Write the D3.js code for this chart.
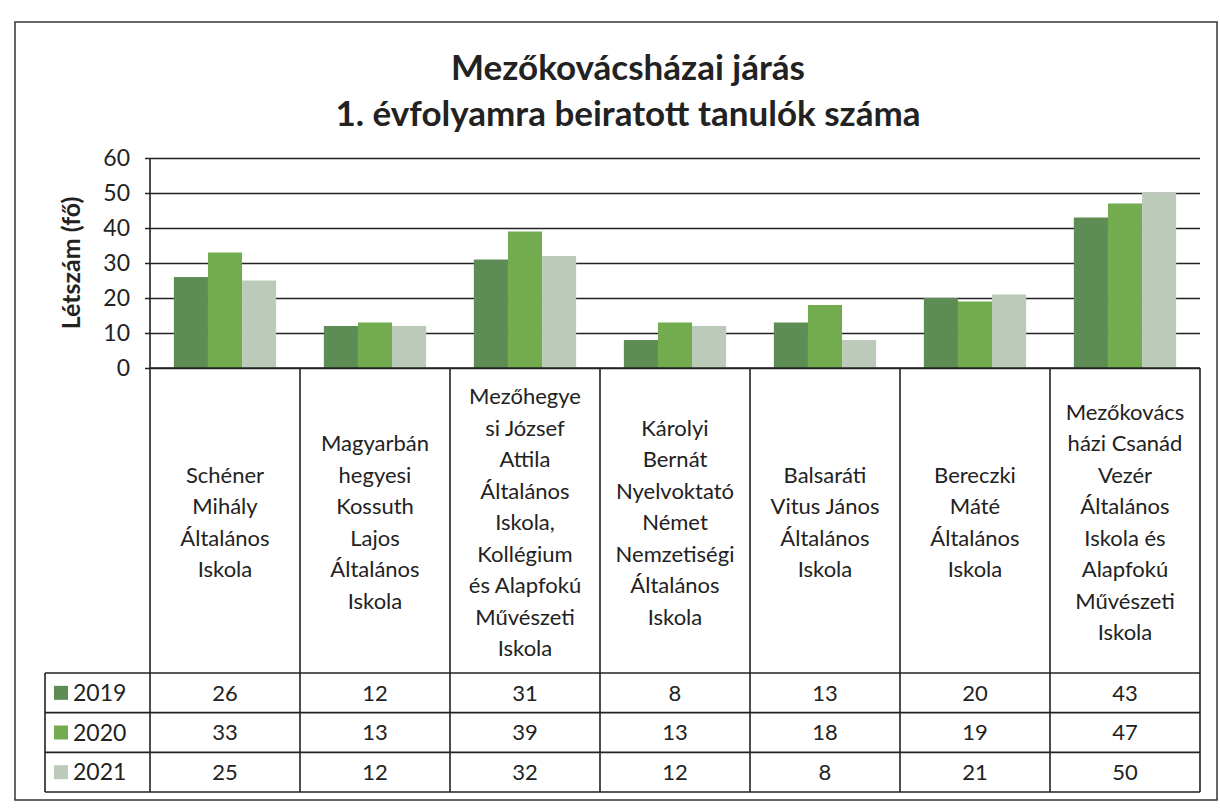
<!DOCTYPE html>
<html>
<head>
<meta charset="utf-8">
<script src="https://cdn.jsdelivr.net/npm/d3@7"></script>
<style>
  body { margin: 0; background: #fff; }
  svg { font-family: Lato, "Noto Sans", sans-serif; }
</style>
</head>
<body>
<svg class="chart"></svg>
<script>
// data
var schools = [
  ["Schéner", "Mihály", "Általános", "Iskola"],
  ["Magyarbán", "hegyesi", "Kossuth", "Lajos", "Általános", "Iskola"],
  ["Mezőhegye", "si József", "Attila", "Általános", "Iskola,", "Kollégium", "és Alapfokú", "Művészeti", "Iskola"],
  ["Károlyi", "Bernát", "Nyelvoktató", "Német", "Nemzetiségi", "Általános", "Iskola"],
  ["Balsaráti", "Vitus János", "Általános", "Iskola"],
  ["Bereczki", "Máté", "Általános", "Iskola"],
  ["Mezőkovács", "házi Csanád", "Vezér", "Általános", "Iskola és", "Alapfokú", "Művészeti", "Iskola"]
];
var years = ["2019", "2020", "2021"];
var v2019 = [26, 12, 31, 8, 13, 20, 43];
var v2020 = [33, 13, 39, 13, 18, 19, 47];
var v2021 = [25, 12, 32, 12, 8, 21, 50];
var yTicks = [0, 10, 20, 30, 40, 50, 60];
var colors = ["#5e8c55", "#72ac4e", "#bccbb9"];

var series = [v2019, v2020, v2021];

var width = 1220, height = 809;
var plotLeft = 150, plotRight = 1200, plotTop = 158, zero = 368;
var tableBottom = 792, rowTop = 673, legendLeft = 45;

var svg = d3.select(".chart")
    .attr("width", width)
    .attr("height", height);

// outer frame
svg.append("rect")
    .attr("x", 15).attr("y", 22)
    .attr("width", 1202).attr("height", 778)
    .attr("fill", "none").attr("stroke", "#333").attr("stroke-width", 1.5);

// title
svg.append("text")
    .attr("x", 628).attr("y", 80)
    .attr("text-anchor", "middle")
    .style("font-size", "35px").style("font-weight", "bold").style("fill", "#222")
    .text("Mezőkovácsházai járás");
svg.append("text")
    .attr("x", 628).attr("y", 126)
    .attr("text-anchor", "middle")
    .style("font-size", "35px").style("font-weight", "bold").style("fill", "#222")
    .text("1. évfolyamra beiratott tanulók száma");

var x = d3.scaleBand()
    .domain(d3.range(schools.length))
    .range([plotLeft, plotRight]);

var xs = d3.scaleBand()
    .domain(years)
    .range([0, x.bandwidth()])
    .paddingOuter(0.7);

var y = d3.scaleLinear()
    .domain([0, 60])
    .range([zero, plotTop]);

// gridlines + tick labels
var yAxis = d3.axisLeft(y)
    .tickValues(yTicks)
    .tickSize(-(plotRight - plotLeft))
    .tickPadding(20)
    .tickFormat(d3.format("d"));

var ga = svg.append("g")
    .attr("transform", "translate(" + plotLeft + ",0)")
    .call(yAxis);
ga.select(".domain").remove();
ga.selectAll(".tick line")
    .attr("x1", -5)
    .attr("stroke", "#222").attr("stroke-width", 1.6);
ga.selectAll(".tick text")
    .style("font-size", "23px").style("fill", "#222")
    .style("font-family", "Lato, 'Noto Sans', sans-serif");

// y label
svg.append("text")
    .attr("transform", "translate(80," + y(30) + ") rotate(-90)")
    .attr("text-anchor", "middle")
    .style("font-size", "25px").style("font-weight", "bold").style("fill", "#222")
    .text("Létszám (fő)");

// bars
var groups = svg.selectAll(".grp")
    .data(schools)
  .enter().append("g")
    .attr("class", "grp")
    .attr("transform", function(d, i) { return "translate(" + x(i) + ",0)"; });

groups.selectAll("rect")
    .data(function(d, i) { return years.map(function(yr, j) { return { yr: yr, v: series[j][i], c: colors[j] }; }); })
  .enter().append("rect")
    .attr("x", function(d) { return xs(d.yr); })
    .attr("width", xs.bandwidth())
    .attr("y", function(d) { return y(d.v); })
    .attr("height", function(d) { return zero - y(d.v); })
    .attr("fill", function(d) { return d.c; });

// axis line
svg.append("line")
    .attr("x1", plotLeft).attr("x2", plotLeft).attr("y1", plotTop).attr("y2", tableBottom)
    .attr("stroke", "#222").attr("stroke-width", 1.6);
svg.append("line")
    .attr("x1", plotLeft).attr("x2", plotRight).attr("y1", zero).attr("y2", zero)
    .attr("stroke", "#222").attr("stroke-width", 1.6);

// table
var rows = d3.scaleBand()
    .domain(years)
    .range([rowTop, tableBottom]);

var lineStyle = function(sel) { return sel.attr("stroke", "#222").attr("stroke-width", 1.6); };

// vertical column lines
svg.selectAll(".vline")
    .data(d3.range(1, schools.length + 1))
  .enter().append("line")
    .attr("x1", function(i) { return x(i - 1) + x.bandwidth(); })
    .attr("x2", function(i) { return x(i - 1) + x.bandwidth(); })
    .attr("y1", zero).attr("y2", tableBottom)
    .call(lineStyle);

// horizontal row lines
svg.selectAll(".hline")
    .data(years.concat(["end"]))
  .enter().append("line")
    .attr("x1", legendLeft).attr("x2", plotRight)
    .attr("y1", function(d) { return d === "end" ? tableBottom : rows(d); })
    .attr("y2", function(d) { return d === "end" ? tableBottom : rows(d); })
    .call(lineStyle);
svg.append("line")
    .attr("x1", legendLeft).attr("x2", legendLeft).attr("y1", rowTop).attr("y2", tableBottom)
    .call(lineStyle);

// category labels
var lh = 31.5;
groups.each(function(d) {
  var g = d3.select(this);
  var mid = (zero + rowTop) / 2 + 2;
  var start = mid - (d.length - 1) * lh / 2;
  g.selectAll(".cat")
      .data(d)
    .enter().append("text")
      .attr("x", x.bandwidth() / 2)
      .attr("y", function(t, k) { return start + k * lh; })
      .attr("dy", "0.35em")
      .attr("text-anchor", "middle")
      .style("font-size", "22px").style("fill", "#222")
      .text(function(t) { return t; });
});

// legend cells
years.forEach(function(yr, j) {
  var cy = rows(yr) + rows.bandwidth() / 2;
  svg.append("rect")
      .attr("x", 54).attr("y", cy - 7)
      .attr("width", 14).attr("height", 14)
      .attr("fill", colors[j]);
  svg.append("text")
      .attr("x", 73).attr("y", cy)
      .attr("dy", "0.35em")
      .style("font-size", "23px").style("fill", "#222")
      .text(yr);
  groups.append("text")
      .attr("x", x.bandwidth() / 2)
      .attr("y", cy)
      .attr("dy", "0.35em")
      .attr("text-anchor", "middle")
      .style("font-size", "22px").style("fill", "#222")
      .text(function(d, i) { return series[j][i]; });
});
</script>
</body>
</html>
